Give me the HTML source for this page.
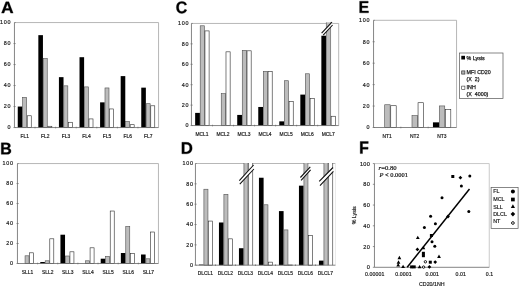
<!DOCTYPE html>
<html><head><meta charset="utf-8"><title>Figure</title>
<style>html,body{margin:0;padding:0;background:#fff;}body{width:520px;height:287px;overflow:hidden;font-family:"Liberation Sans",sans-serif;}svg{display:block;will-change:transform;filter:blur(0.35px);}</style>
</head><body>
<svg width="520" height="287" viewBox="0 0 520 287" font-family="'Liberation Sans', sans-serif">
<rect width="520" height="287" fill="#fff"/>
<path d="M14.45 22.55H158.55" stroke="#a4a4a4" stroke-width="0.8" fill="none"/>
<path d="M158.55 22.55V127.55" stroke="#a4a4a4" stroke-width="0.8" fill="none"/>
<rect x="17.75" y="106.55" width="4.6" height="21" fill="#000"/>
<rect x="22.65" y="97.4" width="4" height="30.15" fill="#bcbcbc" stroke="#505050" stroke-width="0.6"/>
<rect x="27.25" y="115.77" width="4" height="11.78" fill="#fff" stroke="#2a2a2a" stroke-width="0.6"/>
<rect x="38.34" y="35.15" width="4.6" height="92.4" fill="#000"/>
<rect x="43.24" y="58.55" width="4" height="69" fill="#bcbcbc" stroke="#505050" stroke-width="0.6"/>
<rect x="47.84" y="126.27" width="4" height="1.28" fill="#fff" stroke="#2a2a2a" stroke-width="0.6"/>
<rect x="58.92" y="77.15" width="4.6" height="50.4" fill="#000"/>
<rect x="63.82" y="85.85" width="4" height="41.7" fill="#bcbcbc" stroke="#505050" stroke-width="0.6"/>
<rect x="68.42" y="122.28" width="4" height="5.26" fill="#fff" stroke="#2a2a2a" stroke-width="0.6"/>
<rect x="79.51" y="57.2" width="4.6" height="70.35" fill="#000"/>
<rect x="84.41" y="86.9" width="4" height="40.65" fill="#bcbcbc" stroke="#505050" stroke-width="0.6"/>
<rect x="89.01" y="118.92" width="4" height="8.62" fill="#fff" stroke="#2a2a2a" stroke-width="0.6"/>
<rect x="100.09" y="102.35" width="4.6" height="25.2" fill="#000"/>
<rect x="104.99" y="87.95" width="4" height="39.6" fill="#bcbcbc" stroke="#505050" stroke-width="0.6"/>
<rect x="109.59" y="108.95" width="4" height="18.6" fill="#fff" stroke="#2a2a2a" stroke-width="0.6"/>
<rect x="120.68" y="76.1" width="4.6" height="51.45" fill="#000"/>
<rect x="125.58" y="121.55" width="4" height="6" fill="#bcbcbc" stroke="#505050" stroke-width="0.6"/>
<rect x="130.18" y="124.7" width="4" height="2.85" fill="#fff" stroke="#2a2a2a" stroke-width="0.6"/>
<rect x="141.26" y="87.65" width="4.6" height="39.9" fill="#000"/>
<rect x="146.16" y="103.7" width="4" height="23.85" fill="#bcbcbc" stroke="#505050" stroke-width="0.6"/>
<rect x="150.76" y="105.8" width="4" height="21.75" fill="#fff" stroke="#2a2a2a" stroke-width="0.6"/>
<path d="M14.45 22.55V127.55H158.55" stroke="#666666" stroke-width="0.8" fill="none"/>
<path d="M13.45 127.55H15.75" stroke="#666666" stroke-width="0.6"/>
<text x="11.25" y="129.45" font-size="5.4" text-anchor="end" letter-spacing="0.75" fill="#1a1a1a" stroke="#1a1a1a" stroke-width="0.18">0</text>
<path d="M13.45 106.55H15.75" stroke="#666666" stroke-width="0.6"/>
<text x="11.25" y="108.45" font-size="5.4" text-anchor="end" letter-spacing="0.75" fill="#1a1a1a" stroke="#1a1a1a" stroke-width="0.18">20</text>
<path d="M13.45 85.55H15.75" stroke="#666666" stroke-width="0.6"/>
<text x="11.25" y="87.45" font-size="5.4" text-anchor="end" letter-spacing="0.75" fill="#1a1a1a" stroke="#1a1a1a" stroke-width="0.18">40</text>
<path d="M13.45 64.55H15.75" stroke="#666666" stroke-width="0.6"/>
<text x="11.25" y="66.45" font-size="5.4" text-anchor="end" letter-spacing="0.75" fill="#1a1a1a" stroke="#1a1a1a" stroke-width="0.18">60</text>
<path d="M13.45 43.55H15.75" stroke="#666666" stroke-width="0.6"/>
<text x="11.25" y="45.45" font-size="5.4" text-anchor="end" letter-spacing="0.75" fill="#1a1a1a" stroke="#1a1a1a" stroke-width="0.18">80</text>
<path d="M14.45 22.55H15.75" stroke="#666666" stroke-width="0.6"/>
<text x="11.25" y="24.45" font-size="5.4" text-anchor="end" letter-spacing="0.75" fill="#1a1a1a" stroke="#1a1a1a" stroke-width="0.18">100</text>
<path d="M35.04 126.75v1.6" stroke="#666666" stroke-width="0.7"/>
<path d="M55.62 126.75v1.6" stroke="#666666" stroke-width="0.7"/>
<path d="M76.21 126.75v1.6" stroke="#666666" stroke-width="0.7"/>
<path d="M96.79 126.75v1.6" stroke="#666666" stroke-width="0.7"/>
<path d="M117.38 126.75v1.6" stroke="#666666" stroke-width="0.7"/>
<path d="M137.96 126.75v1.6" stroke="#666666" stroke-width="0.7"/>
<text x="24.74" y="137.75" font-size="4.9" text-anchor="middle" fill="#1a1a1a" stroke="#1a1a1a" stroke-width="0.18">FL1</text>
<text x="45.33" y="137.75" font-size="4.9" text-anchor="middle" fill="#1a1a1a" stroke="#1a1a1a" stroke-width="0.18">FL2</text>
<text x="65.91" y="137.75" font-size="4.9" text-anchor="middle" fill="#1a1a1a" stroke="#1a1a1a" stroke-width="0.18">FL3</text>
<text x="86.5" y="137.75" font-size="4.9" text-anchor="middle" fill="#1a1a1a" stroke="#1a1a1a" stroke-width="0.18">FL4</text>
<text x="107.09" y="137.75" font-size="4.9" text-anchor="middle" fill="#1a1a1a" stroke="#1a1a1a" stroke-width="0.18">FL5</text>
<text x="127.67" y="137.75" font-size="4.9" text-anchor="middle" fill="#1a1a1a" stroke="#1a1a1a" stroke-width="0.18">FL6</text>
<text x="148.26" y="137.75" font-size="4.9" text-anchor="middle" fill="#1a1a1a" stroke="#1a1a1a" stroke-width="0.18">FL7</text>
<path d="M17.45 163.55H158.45" stroke="#a4a4a4" stroke-width="0.8" fill="none"/>
<path d="M158.45 163.55V263.5" stroke="#a4a4a4" stroke-width="0.8" fill="none"/>
<rect x="25.05" y="255.8" width="4" height="7.7" fill="#bcbcbc" stroke="#505050" stroke-width="0.6"/>
<rect x="29.65" y="252.81" width="4" height="10.69" fill="#fff" stroke="#2a2a2a" stroke-width="0.6"/>
<rect x="40.29" y="262" width="4.6" height="1.5" fill="#000"/>
<rect x="45.19" y="260.8" width="4" height="2.7" fill="#bcbcbc" stroke="#505050" stroke-width="0.6"/>
<rect x="49.79" y="238.81" width="4" height="24.69" fill="#fff" stroke="#2a2a2a" stroke-width="0.6"/>
<rect x="60.44" y="234.71" width="4.6" height="28.79" fill="#000"/>
<rect x="65.34" y="256" width="4" height="7.5" fill="#bcbcbc" stroke="#505050" stroke-width="0.6"/>
<rect x="69.94" y="251.81" width="4" height="11.69" fill="#fff" stroke="#2a2a2a" stroke-width="0.6"/>
<rect x="85.48" y="260.8" width="4" height="2.7" fill="#bcbcbc" stroke="#505050" stroke-width="0.6"/>
<rect x="90.08" y="247.81" width="4" height="15.69" fill="#fff" stroke="#2a2a2a" stroke-width="0.6"/>
<rect x="100.72" y="258.7" width="4.6" height="4.8" fill="#000"/>
<rect x="105.62" y="256.3" width="4" height="7.2" fill="#bcbcbc" stroke="#505050" stroke-width="0.6"/>
<rect x="110.22" y="211.03" width="4" height="52.47" fill="#fff" stroke="#2a2a2a" stroke-width="0.6"/>
<rect x="120.86" y="253.01" width="4.6" height="10.49" fill="#000"/>
<rect x="125.76" y="226.42" width="4" height="37.08" fill="#bcbcbc" stroke="#505050" stroke-width="0.6"/>
<rect x="130.36" y="253.31" width="4" height="10.19" fill="#fff" stroke="#2a2a2a" stroke-width="0.6"/>
<rect x="141.01" y="254.5" width="4.6" height="9" fill="#000"/>
<rect x="145.91" y="258.8" width="4" height="4.7" fill="#bcbcbc" stroke="#505050" stroke-width="0.6"/>
<rect x="150.51" y="232.02" width="4" height="31.48" fill="#fff" stroke="#2a2a2a" stroke-width="0.6"/>
<path d="M17.45 163.55V263.5H158.45" stroke="#666666" stroke-width="0.8" fill="none"/>
<path d="M16.45 263.5H18.75" stroke="#666666" stroke-width="0.6"/>
<text x="13.75" y="265.4" font-size="5.4" text-anchor="end" letter-spacing="0.75" fill="#1a1a1a" stroke="#1a1a1a" stroke-width="0.18">0</text>
<path d="M16.45 243.51H18.75" stroke="#666666" stroke-width="0.6"/>
<text x="13.75" y="245.41" font-size="5.4" text-anchor="end" letter-spacing="0.75" fill="#1a1a1a" stroke="#1a1a1a" stroke-width="0.18">20</text>
<path d="M16.45 223.52H18.75" stroke="#666666" stroke-width="0.6"/>
<text x="13.75" y="225.42" font-size="5.4" text-anchor="end" letter-spacing="0.75" fill="#1a1a1a" stroke="#1a1a1a" stroke-width="0.18">40</text>
<path d="M16.45 203.53H18.75" stroke="#666666" stroke-width="0.6"/>
<text x="13.75" y="205.43" font-size="5.4" text-anchor="end" letter-spacing="0.75" fill="#1a1a1a" stroke="#1a1a1a" stroke-width="0.18">60</text>
<path d="M16.45 183.54H18.75" stroke="#666666" stroke-width="0.6"/>
<text x="13.75" y="185.44" font-size="5.4" text-anchor="end" letter-spacing="0.75" fill="#1a1a1a" stroke="#1a1a1a" stroke-width="0.18">80</text>
<path d="M17.45 163.55H18.75" stroke="#666666" stroke-width="0.6"/>
<text x="13.75" y="165.45" font-size="5.4" text-anchor="end" letter-spacing="0.75" fill="#1a1a1a" stroke="#1a1a1a" stroke-width="0.18">100</text>
<path d="M37.59 262.7v1.6" stroke="#666666" stroke-width="0.7"/>
<path d="M57.74 262.7v1.6" stroke="#666666" stroke-width="0.7"/>
<path d="M77.88 262.7v1.6" stroke="#666666" stroke-width="0.7"/>
<path d="M98.02 262.7v1.6" stroke="#666666" stroke-width="0.7"/>
<path d="M118.16 262.7v1.6" stroke="#666666" stroke-width="0.7"/>
<path d="M138.31 262.7v1.6" stroke="#666666" stroke-width="0.7"/>
<text x="27.52" y="273.9" font-size="4.9" text-anchor="middle" fill="#1a1a1a" stroke="#1a1a1a" stroke-width="0.18">SLL1</text>
<text x="47.66" y="273.9" font-size="4.9" text-anchor="middle" fill="#1a1a1a" stroke="#1a1a1a" stroke-width="0.18">SLL2</text>
<text x="67.81" y="273.9" font-size="4.9" text-anchor="middle" fill="#1a1a1a" stroke="#1a1a1a" stroke-width="0.18">SLL3</text>
<text x="87.95" y="273.9" font-size="4.9" text-anchor="middle" fill="#1a1a1a" stroke="#1a1a1a" stroke-width="0.18">SLL4</text>
<text x="108.09" y="273.9" font-size="4.9" text-anchor="middle" fill="#1a1a1a" stroke="#1a1a1a" stroke-width="0.18">SLL5</text>
<text x="128.24" y="273.9" font-size="4.9" text-anchor="middle" fill="#1a1a1a" stroke="#1a1a1a" stroke-width="0.18">SLL6</text>
<text x="148.38" y="273.9" font-size="4.9" text-anchor="middle" fill="#1a1a1a" stroke="#1a1a1a" stroke-width="0.18">SLL7</text>
<path d="M191.45 23.45H338.7" stroke="#a4a4a4" stroke-width="0.8" fill="none"/>
<path d="M338.7 23.45V125.55" stroke="#a4a4a4" stroke-width="0.8" fill="none"/>
<rect x="195.15" y="112.89" width="4.75" height="12.66" fill="#000"/>
<rect x="200.2" y="25.79" width="4.15" height="99.76" fill="#bcbcbc" stroke="#505050" stroke-width="0.6"/>
<rect x="204.95" y="30.9" width="4.15" height="94.65" fill="#fff" stroke="#2a2a2a" stroke-width="0.6"/>
<rect x="221.24" y="93.69" width="4.15" height="31.86" fill="#bcbcbc" stroke="#505050" stroke-width="0.6"/>
<rect x="225.99" y="51.83" width="4.15" height="73.72" fill="#fff" stroke="#2a2a2a" stroke-width="0.6"/>
<rect x="237.22" y="114.93" width="4.75" height="10.62" fill="#000"/>
<rect x="242.27" y="50.3" width="4.15" height="75.25" fill="#bcbcbc" stroke="#505050" stroke-width="0.6"/>
<rect x="247.02" y="50.81" width="4.15" height="74.74" fill="#fff" stroke="#2a2a2a" stroke-width="0.6"/>
<rect x="258.26" y="106.97" width="4.75" height="18.58" fill="#000"/>
<rect x="263.31" y="71.33" width="4.15" height="54.22" fill="#bcbcbc" stroke="#505050" stroke-width="0.6"/>
<rect x="268.06" y="71.33" width="4.15" height="54.22" fill="#fff" stroke="#2a2a2a" stroke-width="0.6"/>
<rect x="279.29" y="121.36" width="4.75" height="4.19" fill="#000"/>
<rect x="284.34" y="80.72" width="4.15" height="44.83" fill="#bcbcbc" stroke="#505050" stroke-width="0.6"/>
<rect x="289.09" y="101.65" width="4.15" height="23.9" fill="#fff" stroke="#2a2a2a" stroke-width="0.6"/>
<rect x="300.33" y="94.61" width="4.75" height="30.94" fill="#000"/>
<rect x="305.38" y="73.78" width="4.15" height="51.77" fill="#bcbcbc" stroke="#505050" stroke-width="0.6"/>
<rect x="310.13" y="98.69" width="4.15" height="26.86" fill="#fff" stroke="#2a2a2a" stroke-width="0.6"/>
<rect x="321.36" y="35.7" width="4.75" height="89.85" fill="#000"/>
<rect x="326.41" y="22.35" width="4.15" height="103.2" fill="#bcbcbc"/>
<path d="M326.41 22.35V125.55M330.56 22.35V125.55" stroke="#505050" stroke-width="0.6" fill="none"/>
<rect x="331.16" y="116.25" width="4.15" height="9.3" fill="#fff" stroke="#2a2a2a" stroke-width="0.6"/>
<path d="M191.45 23.45V125.55H338.7" stroke="#666666" stroke-width="0.8" fill="none"/>
<path d="M190.45 125.55H192.75" stroke="#666666" stroke-width="0.6"/>
<text x="189.35" y="127.45" font-size="5.4" text-anchor="end" letter-spacing="0.75" fill="#1a1a1a" stroke="#1a1a1a" stroke-width="0.18">0</text>
<path d="M190.45 105.13H192.75" stroke="#666666" stroke-width="0.6"/>
<text x="189.35" y="107.03" font-size="5.4" text-anchor="end" letter-spacing="0.75" fill="#1a1a1a" stroke="#1a1a1a" stroke-width="0.18">20</text>
<path d="M190.45 84.71H192.75" stroke="#666666" stroke-width="0.6"/>
<text x="189.35" y="86.61" font-size="5.4" text-anchor="end" letter-spacing="0.75" fill="#1a1a1a" stroke="#1a1a1a" stroke-width="0.18">40</text>
<path d="M190.45 64.29H192.75" stroke="#666666" stroke-width="0.6"/>
<text x="189.35" y="66.19" font-size="5.4" text-anchor="end" letter-spacing="0.75" fill="#1a1a1a" stroke="#1a1a1a" stroke-width="0.18">60</text>
<path d="M190.45 43.87H192.75" stroke="#666666" stroke-width="0.6"/>
<text x="189.35" y="45.77" font-size="5.4" text-anchor="end" letter-spacing="0.75" fill="#1a1a1a" stroke="#1a1a1a" stroke-width="0.18">80</text>
<path d="M191.45 23.45H192.75" stroke="#666666" stroke-width="0.6"/>
<text x="189.35" y="25.35" font-size="5.4" text-anchor="end" letter-spacing="0.75" fill="#1a1a1a" stroke="#1a1a1a" stroke-width="0.18">100</text>
<path d="M212.49 124.75v1.6" stroke="#666666" stroke-width="0.7"/>
<path d="M233.52 124.75v1.6" stroke="#666666" stroke-width="0.7"/>
<path d="M254.56 124.75v1.6" stroke="#666666" stroke-width="0.7"/>
<path d="M275.59 124.75v1.6" stroke="#666666" stroke-width="0.7"/>
<path d="M296.63 124.75v1.6" stroke="#666666" stroke-width="0.7"/>
<path d="M317.66 124.75v1.6" stroke="#666666" stroke-width="0.7"/>
<text x="201.97" y="135.95" font-size="4.9" text-anchor="middle" fill="#1a1a1a" stroke="#1a1a1a" stroke-width="0.18">MCL1</text>
<text x="223" y="135.95" font-size="4.9" text-anchor="middle" fill="#1a1a1a" stroke="#1a1a1a" stroke-width="0.18">MCL2</text>
<text x="244.04" y="135.95" font-size="4.9" text-anchor="middle" fill="#1a1a1a" stroke="#1a1a1a" stroke-width="0.18">MCL3</text>
<text x="265.07" y="135.95" font-size="4.9" text-anchor="middle" fill="#1a1a1a" stroke="#1a1a1a" stroke-width="0.18">MCL4</text>
<text x="286.11" y="135.95" font-size="4.9" text-anchor="middle" fill="#1a1a1a" stroke="#1a1a1a" stroke-width="0.18">MCL5</text>
<text x="307.15" y="135.95" font-size="4.9" text-anchor="middle" fill="#1a1a1a" stroke="#1a1a1a" stroke-width="0.18">MCL6</text>
<text x="328.18" y="135.95" font-size="4.9" text-anchor="middle" fill="#1a1a1a" stroke="#1a1a1a" stroke-width="0.18">MCL7</text>
<path d="M321.6 33.2L332 22.2L332.6 25L323.2 35.1Z" fill="#fff"/>
<path d="M321.6 33.2L332 22.2M323.2 35.1L332.6 25" stroke="#111" stroke-width="1.1" fill="none"/>
<path d="M195.45 163.5H335.45" stroke="#a4a4a4" stroke-width="0.8" fill="none"/>
<path d="M335.45 163.5V265.2" stroke="#e4e4e4" stroke-width="0.8" fill="none"/>
<rect x="198.95" y="264.59" width="4.65" height="0.61" fill="#000"/>
<rect x="203.9" y="189.23" width="4.05" height="75.97" fill="#bcbcbc" stroke="#505050" stroke-width="0.6"/>
<rect x="208.55" y="221.06" width="4.05" height="44.14" fill="#fff" stroke="#2a2a2a" stroke-width="0.6"/>
<rect x="218.95" y="222.49" width="4.65" height="42.71" fill="#000"/>
<rect x="223.9" y="194.31" width="4.05" height="70.89" fill="#bcbcbc" stroke="#505050" stroke-width="0.6"/>
<rect x="228.55" y="238.85" width="4.05" height="26.35" fill="#fff" stroke="#2a2a2a" stroke-width="0.6"/>
<rect x="238.95" y="248.22" width="4.65" height="16.98" fill="#000"/>
<rect x="243.9" y="163" width="4.05" height="102.2" fill="#bcbcbc"/>
<path d="M243.9 163V265.2M247.95 163V265.2" stroke="#505050" stroke-width="0.6" fill="none"/>
<rect x="248.55" y="163" width="4.05" height="102.2" fill="#fff"/>
<path d="M248.55 163V265.2M252.6 163V265.2" stroke="#2a2a2a" stroke-width="0.6" fill="none"/>
<rect x="258.95" y="177.74" width="4.65" height="87.46" fill="#000"/>
<rect x="263.9" y="204.79" width="4.05" height="60.41" fill="#bcbcbc" stroke="#505050" stroke-width="0.6"/>
<rect x="268.55" y="262.14" width="4.05" height="3.06" fill="#fff" stroke="#2a2a2a" stroke-width="0.6"/>
<rect x="278.95" y="211.1" width="4.65" height="54.1" fill="#000"/>
<rect x="283.9" y="229.91" width="4.05" height="35.3" fill="#bcbcbc" stroke="#505050" stroke-width="0.6"/>
<rect x="288.55" y="264.99" width="4.05" height="0.21" fill="#fff" stroke="#2a2a2a" stroke-width="0.6"/>
<rect x="298.95" y="185.67" width="4.65" height="79.53" fill="#000"/>
<rect x="303.9" y="163" width="4.05" height="102.2" fill="#bcbcbc"/>
<path d="M303.9 163V265.2M307.95 163V265.2" stroke="#505050" stroke-width="0.6" fill="none"/>
<rect x="308.55" y="235.5" width="4.05" height="29.7" fill="#fff" stroke="#2a2a2a" stroke-width="0.6"/>
<rect x="318.95" y="260.62" width="4.65" height="4.58" fill="#000"/>
<rect x="323.9" y="163" width="4.05" height="102.2" fill="#bcbcbc"/>
<path d="M323.9 163V265.2M327.95 163V265.2" stroke="#505050" stroke-width="0.6" fill="none"/>
<rect x="328.55" y="163" width="4.05" height="102.2" fill="#fff"/>
<path d="M328.55 163V265.2M332.6 163V265.2" stroke="#2a2a2a" stroke-width="0.6" fill="none"/>
<path d="M195.45 163.5V265.2H335.45" stroke="#666666" stroke-width="0.8" fill="none"/>
<path d="M194.45 265.2H196.75" stroke="#666666" stroke-width="0.6"/>
<text x="193.75" y="267.1" font-size="5.4" text-anchor="end" letter-spacing="0.75" fill="#1a1a1a" stroke="#1a1a1a" stroke-width="0.18">0</text>
<path d="M194.45 244.86H196.75" stroke="#666666" stroke-width="0.6"/>
<text x="193.75" y="246.76" font-size="5.4" text-anchor="end" letter-spacing="0.75" fill="#1a1a1a" stroke="#1a1a1a" stroke-width="0.18">20</text>
<path d="M194.45 224.52H196.75" stroke="#666666" stroke-width="0.6"/>
<text x="193.75" y="226.42" font-size="5.4" text-anchor="end" letter-spacing="0.75" fill="#1a1a1a" stroke="#1a1a1a" stroke-width="0.18">40</text>
<path d="M194.45 204.18H196.75" stroke="#666666" stroke-width="0.6"/>
<text x="193.75" y="206.08" font-size="5.4" text-anchor="end" letter-spacing="0.75" fill="#1a1a1a" stroke="#1a1a1a" stroke-width="0.18">60</text>
<path d="M194.45 183.84H196.75" stroke="#666666" stroke-width="0.6"/>
<text x="193.75" y="185.74" font-size="5.4" text-anchor="end" letter-spacing="0.75" fill="#1a1a1a" stroke="#1a1a1a" stroke-width="0.18">80</text>
<path d="M195.45 163.5H196.75" stroke="#666666" stroke-width="0.6"/>
<text x="193.75" y="165.4" font-size="5.4" text-anchor="end" letter-spacing="0.75" fill="#1a1a1a" stroke="#1a1a1a" stroke-width="0.18">100</text>
<path d="M215.45 264.4v1.6" stroke="#666666" stroke-width="0.7"/>
<path d="M235.45 264.4v1.6" stroke="#666666" stroke-width="0.7"/>
<path d="M255.45 264.4v1.6" stroke="#666666" stroke-width="0.7"/>
<path d="M275.45 264.4v1.6" stroke="#666666" stroke-width="0.7"/>
<path d="M295.45 264.4v1.6" stroke="#666666" stroke-width="0.7"/>
<path d="M315.45 264.4v1.6" stroke="#666666" stroke-width="0.7"/>
<text x="205.45" y="275.2" font-size="4.9" text-anchor="middle" fill="#1a1a1a" stroke="#1a1a1a" stroke-width="0.18">DLCL1</text>
<text x="225.45" y="275.2" font-size="4.9" text-anchor="middle" fill="#1a1a1a" stroke="#1a1a1a" stroke-width="0.18">DLCL2</text>
<text x="245.45" y="275.2" font-size="4.9" text-anchor="middle" fill="#1a1a1a" stroke="#1a1a1a" stroke-width="0.18">DLCL3</text>
<text x="265.45" y="275.2" font-size="4.9" text-anchor="middle" fill="#1a1a1a" stroke="#1a1a1a" stroke-width="0.18">DLCL4</text>
<text x="285.45" y="275.2" font-size="4.9" text-anchor="middle" fill="#1a1a1a" stroke="#1a1a1a" stroke-width="0.18">DLCL5</text>
<text x="305.45" y="275.2" font-size="4.9" text-anchor="middle" fill="#1a1a1a" stroke="#1a1a1a" stroke-width="0.18">DLCL6</text>
<text x="325.45" y="275.2" font-size="4.9" text-anchor="middle" fill="#1a1a1a" stroke="#1a1a1a" stroke-width="0.18">DLCL7</text>
<path d="M239.3 180.6L253.6 165L253.9 169L239.8 184.2Z" fill="#fff"/>
<path d="M239.3 180.6L253.6 165M239.8 184.2L253.9 169" stroke="#111" stroke-width="1.1" fill="none"/>
<path d="M300.4 177.5L310.3 166.9L310.6 169.8L301.1 180.4Z" fill="#fff"/>
<path d="M300.4 177.5L310.3 166.9M301.1 180.4L310.6 169.8" stroke="#111" stroke-width="1.1" fill="none"/>
<path d="M319.2 181.4L333 167.5L333.4 171.3L320 185.6Z" fill="#fff"/>
<path d="M319.2 181.4L333 167.5M320 185.6L333.4 171.3" stroke="#111" stroke-width="1.1" fill="none"/>
<path d="M373.55 20.3H456.55" stroke="#a4a4a4" stroke-width="0.8" fill="none"/>
<path d="M456.55 20.3V127.5" stroke="#a4a4a4" stroke-width="0.8" fill="none"/>
<rect x="384.7" y="104.75" width="5.45" height="22.75" fill="#bcbcbc" stroke="#505050" stroke-width="0.6"/>
<rect x="390.75" y="105.72" width="5.45" height="21.78" fill="#fff" stroke="#2a2a2a" stroke-width="0.6"/>
<rect x="412" y="115.69" width="5.45" height="11.81" fill="#bcbcbc" stroke="#505050" stroke-width="0.6"/>
<rect x="418.05" y="102.72" width="5.45" height="24.78" fill="#fff" stroke="#2a2a2a" stroke-width="0.6"/>
<rect x="432.95" y="122.35" width="6.05" height="5.15" fill="#000"/>
<rect x="439.3" y="105.93" width="5.45" height="21.57" fill="#bcbcbc" stroke="#505050" stroke-width="0.6"/>
<rect x="445.35" y="109.68" width="5.45" height="17.82" fill="#fff" stroke="#2a2a2a" stroke-width="0.6"/>
<path d="M373.55 20.3V127.5H456.55" stroke="#666666" stroke-width="0.8" fill="none"/>
<path d="M372.55 127.5H374.85" stroke="#666666" stroke-width="0.6"/>
<text x="370.35" y="129.4" font-size="5.4" text-anchor="end" letter-spacing="0.75" fill="#1a1a1a" stroke="#1a1a1a" stroke-width="0.18">0</text>
<path d="M372.55 106.06H374.85" stroke="#666666" stroke-width="0.6"/>
<text x="370.35" y="107.96" font-size="5.4" text-anchor="end" letter-spacing="0.75" fill="#1a1a1a" stroke="#1a1a1a" stroke-width="0.18">20</text>
<path d="M372.55 84.62H374.85" stroke="#666666" stroke-width="0.6"/>
<text x="370.35" y="86.52" font-size="5.4" text-anchor="end" letter-spacing="0.75" fill="#1a1a1a" stroke="#1a1a1a" stroke-width="0.18">40</text>
<path d="M372.55 63.18H374.85" stroke="#666666" stroke-width="0.6"/>
<text x="370.35" y="65.08" font-size="5.4" text-anchor="end" letter-spacing="0.75" fill="#1a1a1a" stroke="#1a1a1a" stroke-width="0.18">60</text>
<path d="M372.55 41.74H374.85" stroke="#666666" stroke-width="0.6"/>
<text x="370.35" y="43.64" font-size="5.4" text-anchor="end" letter-spacing="0.75" fill="#1a1a1a" stroke="#1a1a1a" stroke-width="0.18">80</text>
<path d="M373.55 20.3H374.85" stroke="#666666" stroke-width="0.6"/>
<text x="370.35" y="22.2" font-size="5.4" text-anchor="end" letter-spacing="0.75" fill="#1a1a1a" stroke="#1a1a1a" stroke-width="0.18">100</text>
<path d="M400.85 126.7v1.6" stroke="#666666" stroke-width="0.7"/>
<path d="M428.15 126.7v1.6" stroke="#666666" stroke-width="0.7"/>
<text x="387.2" y="137.9" font-size="4.9" text-anchor="middle" fill="#1a1a1a" stroke="#1a1a1a" stroke-width="0.18">NT1</text>
<text x="414.5" y="137.9" font-size="4.9" text-anchor="middle" fill="#1a1a1a" stroke="#1a1a1a" stroke-width="0.18">NT2</text>
<text x="441.8" y="137.9" font-size="4.9" text-anchor="middle" fill="#1a1a1a" stroke="#1a1a1a" stroke-width="0.18">NT3</text>
<rect x="459.55" y="53" width="43.45" height="45.6" fill="#fff" stroke="#555" stroke-width="0.7"/>
<rect x="461.3" y="55.8" width="3.7" height="3.7" fill="#000"/>
<rect x="461.7" y="70.9" width="3.2" height="3.2" fill="#b0b0b0" stroke="#333" stroke-width="0.7"/>
<rect x="461.7" y="86.1" width="3.2" height="3.2" fill="#fff" stroke="#333" stroke-width="0.6"/>
<text x="466.6" y="59.6" font-size="5.3" fill="#1a1a1a" stroke="#1a1a1a" stroke-width="0.25" xml:space="preserve">% Lysis</text>
<text x="466.6" y="74.4" font-size="5.3" fill="#1a1a1a" stroke="#1a1a1a" stroke-width="0.25" xml:space="preserve">MFI CD20</text>
<text x="466.6" y="81.4" font-size="5.3" fill="#1a1a1a" stroke="#1a1a1a" stroke-width="0.25" xml:space="preserve">(X  2)</text>
<text x="466.6" y="89.2" font-size="5.3" fill="#1a1a1a" stroke="#1a1a1a" stroke-width="0.25" xml:space="preserve">INH</text>
<text x="466.6" y="95.8" font-size="5.3" fill="#1a1a1a" stroke="#1a1a1a" stroke-width="0.25" xml:space="preserve">(X  4000)</text>
<path d="M374.45 163.55H489.25V267.3" stroke="#c4c4c4" stroke-width="0.9" fill="none"/>
<path d="M374.45 163.55V267.3H489.25" stroke="#666666" stroke-width="0.8" fill="none"/>
<path d="M374.45 267.3h-1.6" stroke="#666666" stroke-width="0.7"/>
<text x="370.2" y="269.3" font-size="5.6" text-anchor="end" letter-spacing="0.3" fill="#1a1a1a" stroke="#1a1a1a" stroke-width="0.18">0</text>
<path d="M374.45 246.55h-1.6" stroke="#666666" stroke-width="0.7"/>
<text x="370.2" y="248.55" font-size="5.6" text-anchor="end" letter-spacing="0.3" fill="#1a1a1a" stroke="#1a1a1a" stroke-width="0.18">20</text>
<path d="M374.45 225.8h-1.6" stroke="#666666" stroke-width="0.7"/>
<text x="370.2" y="227.8" font-size="5.6" text-anchor="end" letter-spacing="0.3" fill="#1a1a1a" stroke="#1a1a1a" stroke-width="0.18">40</text>
<path d="M374.45 205.05h-1.6" stroke="#666666" stroke-width="0.7"/>
<text x="370.2" y="207.05" font-size="5.6" text-anchor="end" letter-spacing="0.3" fill="#1a1a1a" stroke="#1a1a1a" stroke-width="0.18">60</text>
<path d="M374.45 184.3h-1.6" stroke="#666666" stroke-width="0.7"/>
<text x="370.2" y="186.3" font-size="5.6" text-anchor="end" letter-spacing="0.3" fill="#1a1a1a" stroke="#1a1a1a" stroke-width="0.18">80</text>
<path d="M374.45 163.55h-1.6" stroke="#666666" stroke-width="0.7"/>
<text x="370.2" y="165.55" font-size="5.6" text-anchor="end" letter-spacing="0.3" fill="#1a1a1a" stroke="#1a1a1a" stroke-width="0.18">100</text>
<text x="374.75" y="275.7" font-size="5.2" text-anchor="middle" letter-spacing="0.1" fill="#1a1a1a" stroke="#1a1a1a" stroke-width="0.18">0.00001</text>
<text x="403.45" y="275.7" font-size="5.2" text-anchor="middle" letter-spacing="0.1" fill="#1a1a1a" stroke="#1a1a1a" stroke-width="0.18">0.0001</text>
<text x="432.15" y="275.7" font-size="5.2" text-anchor="middle" letter-spacing="0.1" fill="#1a1a1a" stroke="#1a1a1a" stroke-width="0.18">0.001</text>
<text x="460.85" y="275.7" font-size="5.2" text-anchor="middle" letter-spacing="0.1" fill="#1a1a1a" stroke="#1a1a1a" stroke-width="0.18">0.01</text>
<text x="489.55" y="275.7" font-size="5.2" text-anchor="middle" letter-spacing="0.1" fill="#1a1a1a" stroke="#1a1a1a" stroke-width="0.18">0.1</text>
<text x="431.8" y="286" font-size="5.3" text-anchor="middle" fill="#1a1a1a" stroke="#1a1a1a" stroke-width="0.18">CD20/1NH</text>
<text transform="translate(356.4 215.3) rotate(-90)" font-size="5.3" text-anchor="middle" fill="#1a1a1a" stroke="#1a1a1a" stroke-width="0.18">% Lysis</text>
<text x="378.6" y="170.2" font-family="'Liberation Serif', serif" font-size="6.7" fill="#111" stroke="#111" stroke-width="0.2"><tspan font-style="italic">r</tspan>=0.80</text>
<text x="379.6" y="177.4" font-family="'Liberation Serif', serif" font-size="6.4" fill="#111" stroke="#111" stroke-width="0.2"><tspan font-style="italic">P</tspan> &lt; 0.0001</text>
<path d="M407.2 267.2L469.5 189" stroke="#000" stroke-width="1.5" fill="none"/>
<circle cx="469.8" cy="176" r="1.5" fill="#000"/>
<circle cx="461.4" cy="186.1" r="1.5" fill="#000"/>
<circle cx="442" cy="197.7" r="1.5" fill="#000"/>
<circle cx="430.6" cy="216.2" r="1.5" fill="#000"/>
<circle cx="435.4" cy="223.8" r="1.5" fill="#000"/>
<circle cx="424.4" cy="227.6" r="1.5" fill="#000"/>
<circle cx="432" cy="241.7" r="1.5" fill="#000"/>
<circle cx="434.8" cy="246.2" r="1.5" fill="#000"/>
<circle cx="468.8" cy="211.5" r="1.5" fill="#000"/>
<rect x="451.3" y="175" width="3.0" height="3.0" fill="#000"/>
<rect x="429.9" y="234" width="3.0" height="3.0" fill="#000"/>
<rect x="421.9" y="251.8" width="3.0" height="3.0" fill="#000"/>
<rect x="421.9" y="254.2" width="3.0" height="3.0" fill="#000"/>
<rect x="428.8" y="260.7" width="3.0" height="3.0" fill="#000"/>
<rect x="410.1" y="265.4" width="3.0" height="3.0" fill="#000"/>
<rect x="412.7" y="265.4" width="3.0" height="3.0" fill="#000"/>
<path d="M417.8 235.7L419.7 239.12H415.9Z" fill="#000"/>
<path d="M423.4 245.8L425.3 249.22H421.5Z" fill="#000"/>
<path d="M439 254.6L440.9 258.02H437.1Z" fill="#000"/>
<path d="M399.4 255.8L401.3 259.22H397.5Z" fill="#000"/>
<path d="M398.5 260.3L400.4 263.72H396.6Z" fill="#000"/>
<path d="M398.2 263.1L400.1 266.52H396.3Z" fill="#000"/>
<path d="M403.1 264.7L405 268.12H401.2Z" fill="#000"/>
<path d="M419.6 264.9L421.5 268.32H417.7Z" fill="#000"/>
<path d="M460.4 175.8L462.3 177.7L460.4 179.6L458.5 177.7Z" fill="#000"/>
<path d="M448 214.6L449.9 216.5L448 218.4L446.1 216.5Z" fill="#000"/>
<path d="M417.4 247.5L419.3 249.4L417.4 251.3L415.5 249.4Z" fill="#000"/>
<path d="M435.2 260.2L437.1 262.1L435.2 264L433.3 262.1Z" fill="#000"/>
<path d="M429.4 265L431.3 266.9L429.4 268.8L427.5 266.9Z" fill="#000"/>
<circle cx="425.4" cy="261.8" r="1.2" fill="#fff" stroke="#000" stroke-width="0.9"/>
<circle cx="423.6" cy="267.1" r="1.2" fill="#fff" stroke="#000" stroke-width="0.9"/>
<rect x="491.1" y="187.5" width="27" height="41.1" fill="#fff" stroke="#555" stroke-width="0.7"/>
<text x="493.2" y="193.2" font-size="5.4" fill="#1a1a1a" stroke="#1a1a1a" stroke-width="0.18">FL</text>
<text x="493.2" y="201.4" font-size="5.4" fill="#1a1a1a" stroke="#1a1a1a" stroke-width="0.18">MCL</text>
<text x="493.2" y="208.8" font-size="5.4" fill="#1a1a1a" stroke="#1a1a1a" stroke-width="0.18">SLL</text>
<text x="493.2" y="215.9" font-size="5.4" fill="#1a1a1a" stroke="#1a1a1a" stroke-width="0.18">DLCL</text>
<text x="493.2" y="223.0" font-size="5.4" fill="#1a1a1a" stroke="#1a1a1a" stroke-width="0.18">NT</text>
<circle cx="512.9" cy="191.5" r="2.0" fill="#000"/>
<rect x="511.05" y="197.65" width="3.7" height="3.7" fill="#000"/>
<path d="M512.9 204.3L515 208.08H510.8Z" fill="#000"/>
<path d="M512.9 211.8L515.2 214.1L512.9 216.4L510.6 214.1Z" fill="#000"/>
<circle cx="512.9" cy="223" r="1.35" fill="#fff" stroke="#000" stroke-width="0.9"/>
<path transform="matrix(0.00844 0 0 -0.00801 1.100 13.120)" d="M1133 0 1008 360H471L346 0H51L565 1409H913L1425 0ZM739 1192 733 1170Q723 1134 709.0 1088.0Q695 1042 537 582H942L803 987L760 1123Z" fill="#000" stroke="#000" stroke-width="40" stroke-linejoin="round"/>
<path transform="matrix(0.00780 0 0 -0.00815 0.212 154.320)" d="M1386 402Q1386 210 1242.0 105.0Q1098 0 842 0H137V1409H782Q1040 1409 1172.5 1319.5Q1305 1230 1305 1055Q1305 935 1238.5 852.5Q1172 770 1036 741Q1207 721 1296.5 633.5Q1386 546 1386 402ZM1008 1015Q1008 1110 947.5 1150.0Q887 1190 768 1190H432V841H770Q895 841 951.5 884.5Q1008 928 1008 1015ZM1090 425Q1090 623 806 623H432V219H817Q959 219 1024.5 270.5Q1090 322 1090 425Z" fill="#000" stroke="#000" stroke-width="40" stroke-linejoin="round"/>
<path transform="matrix(0.00780 0 0 -0.00830 175.725 13.254)" d="M795 212Q1062 212 1166 480L1423 383Q1340 179 1179.5 79.5Q1019 -20 795 -20Q455 -20 269.5 172.5Q84 365 84 711Q84 1058 263.0 1244.0Q442 1430 782 1430Q1030 1430 1186.0 1330.5Q1342 1231 1405 1038L1145 967Q1112 1073 1015.5 1135.5Q919 1198 788 1198Q588 1198 484.5 1074.0Q381 950 381 711Q381 468 487.5 340.0Q594 212 795 212Z" fill="#000" stroke="#000" stroke-width="40" stroke-linejoin="round"/>
<path transform="matrix(0.00819 0 0 -0.00815 180.758 153.770)" d="M1393 715Q1393 497 1307.5 334.5Q1222 172 1065.5 86.0Q909 0 707 0H137V1409H647Q1003 1409 1198.0 1229.5Q1393 1050 1393 715ZM1096 715Q1096 942 978.0 1061.5Q860 1181 641 1181H432V228H682Q872 228 984.0 359.0Q1096 490 1096 715Z" fill="#000" stroke="#000" stroke-width="40" stroke-linejoin="round"/>
<path transform="matrix(0.00774 0 0 -0.00826 358.570 12.820)" d="M137 0V1409H1245V1181H432V827H1184V599H432V228H1286V0Z" fill="#000" stroke="#000" stroke-width="40" stroke-linejoin="round"/>
<path transform="matrix(0.00774 0 0 -0.00862 359.170 153.620)" d="M432 1181V745H1153V517H432V0H137V1409H1176V1181Z" fill="#000" stroke="#000" stroke-width="40" stroke-linejoin="round"/>
</svg>
</body></html>
